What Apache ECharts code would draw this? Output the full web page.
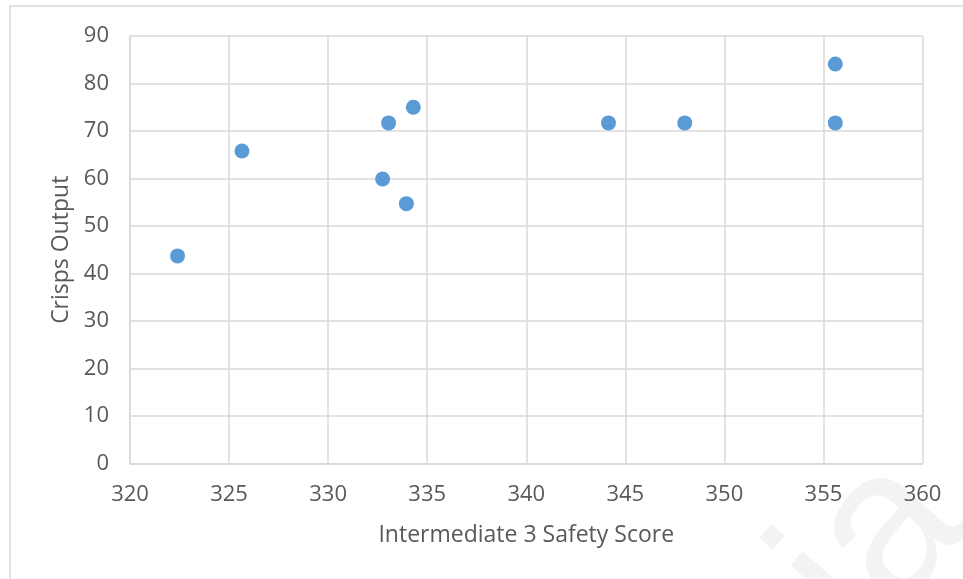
<!DOCTYPE html>
<html>
<head>
<meta charset="utf-8">
<script src="https://cdn.jsdelivr.net/npm/echarts@6/dist/echarts.min.js"></script>
<style>
  html, body { margin: 0; padding: 0; background: #ffffff; }
  #chart { width: 963px; height: 579px; }
</style>
</head>
<body>
<div id="chart"></div>
<script>
// Safety score vs. crisps output
const safetyScores = [322.4, 325.65, 333.05, 334.3, 332.75, 333.95, 344.15, 348.0, 355.6, 355.6];
const crispsOutput = [43.7, 65.8, 71.7, 75.0, 59.9, 54.7, 71.7, 71.7, 84.1, 71.7];
const xTitle = 'Intermediate 3 Safety Score';
const yTitle = 'Crisps Output';

const points = safetyScores.map((x, i) => [x, crispsOutput[i]]);

const FONT = "'Open Sans', 'Liberation Sans', sans-serif";
const TEXT = '#595959';
const GRID = '#d9d9d9';

const chart = echarts.init(document.getElementById('chart'), null, { renderer: 'canvas' });
chart.setOption({
  backgroundColor: '#ffffff',
  animation: false,
  textStyle: { fontFamily: FONT },
  grid: { left: 130, top: 36, right: 40.5, bottom: 115.5, containLabel: false },
  xAxis: {
    type: 'value', min: 320, max: 360, interval: 5,
    name: xTitle, nameLocation: 'middle', nameGap: 60,
    nameTextStyle: { color: TEXT, fontSize: 23, fontFamily: FONT },
    axisLine: { show: true, lineStyle: { color: GRID, width: 1.5 } },
    axisTick: { show: false },
    axisLabel: { color: TEXT, fontSize: 22, margin: 20, fontFamily: FONT },
    splitLine: { show: true, lineStyle: { color: GRID, width: 1.5 } }
  },
  yAxis: {
    type: 'value', min: 0, max: 90, interval: 10,
    name: yTitle, nameLocation: 'middle', nameGap: 57, nameRotate: 90,
    nameTextStyle: { color: TEXT, fontSize: 23, fontFamily: FONT },
    axisLine: { show: true, lineStyle: { color: GRID, width: 1.5 } },
    axisTick: { show: false },
    axisLabel: { color: TEXT, fontSize: 22, margin: 21, fontFamily: FONT },
    splitLine: { show: true, lineStyle: { color: GRID, width: 1.5 } }
  },
  series: [{
    type: 'scatter',
    data: points,
    symbol: 'circle',
    symbolSize: 15,
    itemStyle: { color: '#5b9bd5', opacity: 1 }
  }],
  graphic: [
    {
      type: 'rect', silent: true, z: -1,
      shape: { x: 10, y: 6, width: 970, height: 600 },
      style: { fill: 'none', stroke: '#d9d9d9', lineWidth: 1.5 }
    },
    {
      // faint corner mark
      type: 'text', silent: true, z: -2,
      x: 900, y: 680, rotation: 0.85,
      style: {
        x: 0, y: 0, text: 'ia', fill: '#f3f3f3',
        verticalAlign: 'bottom', align: 'left',
        fontSize: 210, fontFamily: 'Liberation Sans'
      }
    }
  ]
});
</script>
</body>
</html>
